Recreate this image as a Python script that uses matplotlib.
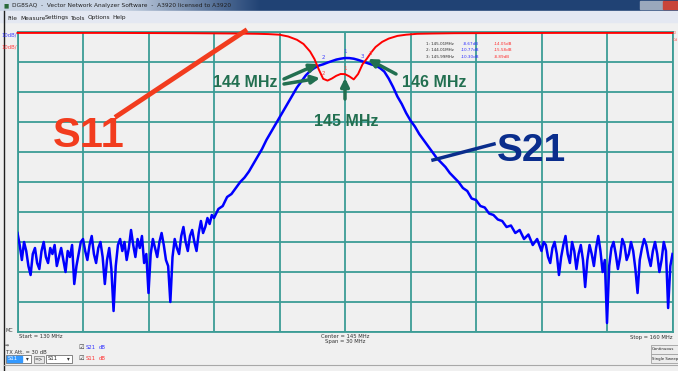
import numpy as np
from matplotlib import pyplot as plt
from matplotlib.patches import Rectangle

# S21 Noise Floor Left (130.0 - 139.0 MHz, 0.1 MHz Steps)
s21_left = [
    -67, -71, -76, -70, -73, -78, -81, -74, -72, -77,
    -79, -73, -70, -75, -77, -72, -74, -71, -78, -75,
    -72, -76, -80, -73, -75, -71, -84, -78, -74, -70,
    -69, -73, -76, -71, -68, -74, -77, -72, -70, -75,
    -84, -76, -72, -79, -93, -78, -71, -69, -73, -70,
    -76, -72, -66, -71, -75, -69, -72, -68, -77, -74,
    -87, -74, -69, -72, -75, -70, -67, -71, -76, -78,
    -90, -75, -69, -72, -74, -68, -65, -70, -73, -68,
    -66, -70, -73, -67, -63, -67, -65, -62, -64, -61,
    -62,
]

# S21 Passband (139.2 - 153.8 MHz, 0.2 MHz Steps)
s21_mid = [
    -59, -58, -55, -54,
    -52, -50, -48.5, -46.5, -44, -41.5, -39, -36, -33.5, -31,
    -28.5, -26, -23.5, -21, -18.5, -16.5, -14.5, -13, -12, -11.2,
    -10.77, -10.2, -9.7, -9.2, -8.9, -8.67, -8.7, -8.9, -9.3, -9.8,
    -10.3, -10.8, -11.2, -12.0, -13.2, -15.5, -18.3, -21.5, -24, -27,
    -29.5, -31.5, -34, -36, -38, -40, -42, -43.5, -45, -47,
    -48.5, -50, -52, -53, -55.5, -56, -58, -58.5, -60.5, -61,
    -62.5, -63, -65, -64.5, -67, -66, -69, -67.5, -71, -69,
]

# S21 Noise Floor Right (154.0 - 160.0 MHz, 0.1 MHz Steps)
s21_right = [
    -73, -70, -71, -75, -77, -72, -70, -74, -81, -75,
    -71, -68, -74, -77, -70, -73, -79, -74, -71, -76,
    -85, -76, -71, -74, -78, -72, -68, -73, -80, -76,
    -97, -78, -72, -70, -74, -79, -75, -69, -71, -76,
    -74, -70, -73, -79, -87, -76, -72, -69, -71, -75,
    -78, -73, -70, -74, -80, -76, -70, -73, -92, -78,
    -74,
]

freq = np.concatenate([np.linspace(130, 139, 91), np.linspace(139.2, 153.8, 74),
                       np.linspace(154, 160, 61)])
s21_db = s21_left + s21_mid + s21_right

s11_freq = [130, 132, 134, 136, 138, 139, 140, 140.5, 141, 141.5, 142, 142.4,
            142.8, 143.1, 143.4, 143.6, 143.8, 144.0, 144.2, 144.4, 144.6,
            144.8, 145.0, 145.2, 145.4, 145.6, 145.8, 146.0, 146.2, 146.4,
            146.7, 147.0, 147.4, 147.8, 148.3, 149, 150, 152, 155, 158, 160]
s11_db = [-0.3, -0.3, -0.3, -0.35, -0.4, -0.45, -0.5, -0.55, -0.6, -0.7, -0.9,
          -1.5, -2.6, -4.0, -6.5, -9.0, -12.5, -15.6, -16.2, -15.5, -14.6,
          -14.0, -14.05, -14.8, -15.8, -14.0, -10.8, -8.9, -6.8, -5.0, -3.3,
          -2.2, -1.3, -0.9, -0.6, -0.5, -0.4, -0.35, -0.3, -0.3, -0.3]

marker_freq = [145.01, 144.01, 145.99]
marker_s21 = [-8.67, -10.77, -10.30]
marker_s11 = [-14.05, -15.58, -8.89]

W, H = 678, 371
teal = '#3c9c96'
green = '#226f50'
bg = '#f0f0f0'


# Pixel (from top left) To Figure Fraction
def px(x, y):
    return x / W, 1 - y / H


fig = plt.figure(figsize=(W / 100, H / 100), dpi=100)
fig.patch.set_facecolor(bg)

# Title Bar
tb = fig.add_axes([0, 1 - 11 / H, 1, 11 / H])
grad = np.zeros((1, W, 3))
light = np.array([200, 212, 228]) / 255
dark = np.array([32, 66, 116]) / 255
for i in range(W):
    t = min(max((i - 120) / 140, 0), 1)
    grad[0, i] = light * (1 - t) + dark * t
tb.imshow(grad, aspect='auto', extent=[0, W, 11, 0])
tb.add_patch(Rectangle((640, 1), 23, 8, color='#9aa8bc'))
tb.add_patch(Rectangle((663, 1), 15, 8, color='#c8453a'))
tb.set_xlim(0, W)
tb.set_ylim(11, 0)
tb.axis('off')
fig.text(*px(4, 5.5), '■', fontsize=4, color='#2a6a3a', va='center')
fig.text(*px(12, 5.5), 'DG8SAQ  -  Vector Network Analyzer Software  -  A3920 licensed to A3920',
         fontsize=4.2, color='#202020', va='center', family='DejaVu Sans')

# Menu Bar
fig.patches.append(Rectangle(px(0, 22), 1, 11 / H, transform=fig.transFigure,
                             color='#e4e8f2', zorder=0))
for x, name in [(7, 'File'), (20, 'Measure'), (45, 'Settings'), (70, 'Tools'),
                (88, 'Options'), (112, 'Help')]:
    fig.text(*px(x, 18), name, fontsize=4.2, color='#202020', va='center',
             family='DejaVu Sans')

# Left Window Border
fig.lines.append(plt.Line2D([4 / W, 4 / W], [0, 1 - 11 / H], transform=fig.transFigure,
                            color='#202020', lw=1))

# Plot Area
left, top, right, bottom = 17.5, 32, 672.5, 332
ax = fig.add_axes([left / W, 1 - bottom / H, (right - left) / W, (bottom - top) / H])
ax.set_facecolor(bg)
ax.set_xlim(130, 160)
ax.set_ylim(-100, 0)
ax.set_xticks(np.arange(130, 161, 3))
ax.set_yticks(np.arange(-100, 1, 10))
ax.grid(True, color=teal, lw=1.3)
ax.tick_params(length=0, labelbottom=False, labelleft=False)
for s in ax.spines.values():
    s.set_color(teal)
    s.set_linewidth(1.3)

ax.plot(freq, s21_db, color='#0000ff', lw=1.8, zorder=3)
ax.plot(s11_freq, s11_db, color='#ff0000', lw=1.4, zorder=4, clip_on=False)

# Markers (number 3 labels nudged apart so they don't sit on each other)
nudge_s21 = [0, 0, -3]
nudge_s11 = [0, 0, 3]
for i, f in enumerate(marker_freq):
    ax.annotate(str(i + 1), (f, marker_s21[i]), xytext=(nudge_s21[i], 3),
                textcoords='offset points', fontsize=4, color='#4040ff', ha='center',
                va='bottom', zorder=5)
    ax.annotate(str(i + 1), (f, marker_s11[i]), xytext=(nudge_s11[i], 2),
                textcoords='offset points', fontsize=4, color='#ff4040', ha='center',
                va='bottom', zorder=5)

# Marker Table
for i, f in enumerate(marker_freq):
    y = 44 + i * 6.3
    fig.text(*px(426, y), f'{i + 1}: {f:.2f}MHz', fontsize=3.0, color='#303030',
             va='center', family='DejaVu Sans')
    fig.text(*px(479, y), f'{marker_s21[i]:.2f}dB', fontsize=3.0, color='#3030ff',
             va='center', ha='right', family='DejaVu Sans')
    fig.text(*px(494, y), f'{marker_s11[i]:.2f}dB', fontsize=3.0, color='#ff3030',
             va='center', family='DejaVu Sans')

# Scale Labels
fig.text(*px(1, 35), '10dB/', fontsize=3.8, color='#4040ff', va='center', family='DejaVu Sans')
fig.text(*px(1, 47), '10dB/', fontsize=3.8, color='#ff4040', va='center', family='DejaVu Sans')
fig.text(*px(672.5, 33), '-0', fontsize=3, color='#ff6060', va='center', family='DejaVu Sans')
fig.text(*px(672.5, 40), '0d', fontsize=3, color='#ff6060', va='center', family='DejaVu Sans')
fig.text(*px(5, 330), 'MC', fontsize=3.5, color='#303030', va='center', family='DejaVu Sans')

# Big Labels
red_lbl = '#f23c1e'
blue_lbl = '#0a2d8c'
fig.text(*px(53, 136), 'S11', fontsize=30, color=red_lbl, fontweight='bold',
         va='center', family='Liberation Sans')
fig.lines.append(plt.Line2D([117 / W, 245 / W], [1 - 116 / H, 1 - 31 / H],
                            transform=fig.transFigure, color=red_lbl, lw=3.5))
fig.text(*px(497, 151), 'S21', fontsize=28, color=blue_lbl, fontweight='bold',
         va='center', family='Liberation Sans')
fig.lines.append(plt.Line2D([494 / W, 433 / W], [1 - 144 / H, 1 - 160 / H],
                            transform=fig.transFigure, color=blue_lbl, lw=2.5))


# Frequency Callouts
def arrow(x0, y0, x1, y1):
    ax.annotate('', xy=(x1, H - y1), xycoords='figure pixels',
                xytext=(x0, H - y0), textcoords='figure pixels',
                arrowprops=dict(arrowstyle='-|>', color=green, lw=2.5, mutation_scale=12,
                                shrinkA=0, shrinkB=0))


fig.text(*px(213, 82.5), '144 MHz', fontsize=11.5, color=green, fontweight='bold',
         va='center', family='Liberation Sans')
arrow(284, 79, 318, 64)
arrow(284, 84, 320, 78)
fig.text(*px(346.5, 122), '145 MHz', fontsize=11.5, color=green, fontweight='bold',
         va='center', ha='center', family='Liberation Sans')
arrow(345, 99, 345, 78)
fig.text(*px(402, 82.5), '146 MHz', fontsize=11.5, color=green, fontweight='bold',
         va='center', family='Liberation Sans')
arrow(396, 74, 368, 59)

# Bottom Labels
fig.text(*px(19, 337), 'Start = 130 MHz', fontsize=3.8, color='#303030', va='center',
         family='DejaVu Sans')
fig.text(*px(345, 336), 'Center = 145 MHz', fontsize=3.8, color='#303030', va='center',
         ha='center', family='DejaVu Sans')
fig.text(*px(345, 342), 'Span = 30 MHz', fontsize=3.8, color='#303030', va='center',
         ha='center', family='DejaVu Sans')
fig.text(*px(672, 337), 'Stop = 160 MHz', fontsize=3.8, color='#303030', va='center',
         ha='right', family='DejaVu Sans')

# Controls
fig.text(*px(5, 346), '⇒', fontsize=3.5, color='#303030', va='center', family='DejaVu Sans')
fig.text(*px(6, 352), 'TX Att. = 30 dB', fontsize=3.8, color='#303030', va='center',
         family='DejaVu Sans')
for x0, x1 in [(6, 31), (46, 72)]:
    fig.patches.append(Rectangle(px(x0, 362.5), (x1 - x0) / W, 7.5 / H,
                                 transform=fig.transFigure, facecolor='white',
                                 edgecolor='#707070', lw=0.6))
fig.patches.append(Rectangle(px(7, 361.5), 15 / W, 5.5 / H, transform=fig.transFigure,
                             color='#3399ff'))
fig.text(*px(8, 358.8), 'S11', fontsize=3.8, color='white', va='center', family='DejaVu Sans')
fig.text(*px(48, 358.8), 'S11', fontsize=3.8, color='#202020', va='center',
         family='DejaVu Sans')
for x in [27, 68]:
    fig.text(*px(x, 358.8), '▾', fontsize=4, color='#303030', va='center', ha='center',
             family='DejaVu Sans')
fig.patches.append(Rectangle(px(33.5, 362.5), 10 / W, 7 / H, transform=fig.transFigure,
                             facecolor='#e6e6e6', edgecolor='#8a8a8a', lw=0.6))
fig.text(*px(38.5, 359), '=>', fontsize=3.5, color='#303030', va='center', ha='center',
         family='DejaVu Sans')
for y, name, col in [(347.5, 'S21', '#3030ff'), (358.5, 'S11', '#ff3030')]:
    fig.text(*px(78, y), '☑', fontsize=4.5, color='#404040', va='center',
             family='DejaVu Sans')
    fig.text(*px(86, y), name, fontsize=3.8, color=col, va='center', family='DejaVu Sans')
    fig.text(*px(99, y), 'dB', fontsize=3.8, color=col, va='center', family='DejaVu Sans')

for y0, name in [(345, 'Continuous'), (354.3, 'Single Sweep')]:
    fig.patches.append(Rectangle(px(650.5, y0 + 9), 30 / W, 9 / H, transform=fig.transFigure,
                                 facecolor='#ececec', edgecolor='#a0a0a0', lw=0.6))
    fig.text(*px(651.5, y0 + 4.5), name, fontsize=2.8, color='#202020', va='center',
             family='DejaVu Sans')

fig.lines.append(plt.Line2D([4 / W, 1], [1 - 364.5 / H, 1 - 364.5 / H],
                            transform=fig.transFigure, color='#a8a8a8', lw=0.8))

plt.savefig('out.png', dpi=100, facecolor=bg)
